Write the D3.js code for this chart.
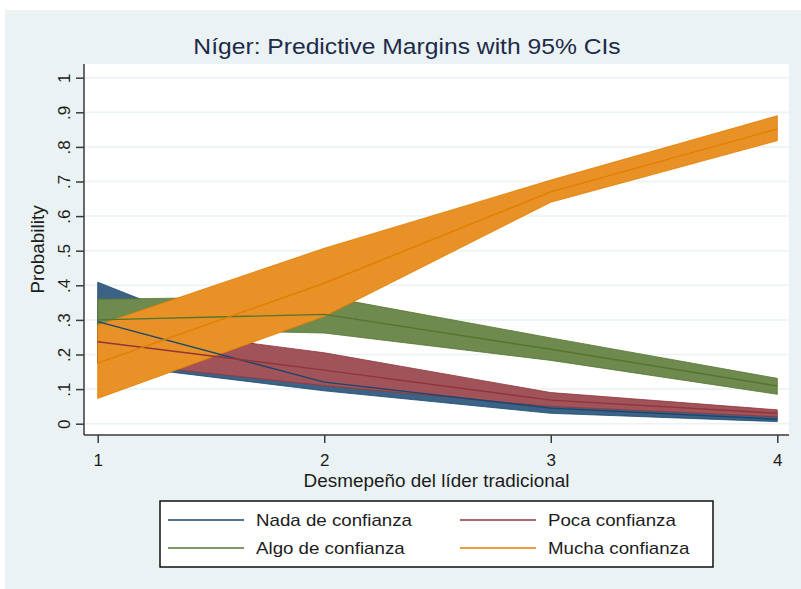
<!DOCTYPE html>
<html>
<head>
<meta charset="utf-8">
<script src="https://cdn.jsdelivr.net/npm/d3@7"></script>
<style>
  body { margin: 0; background: #fff; }
  text { font-family: "Liberation Sans", Arial, sans-serif; }
</style>
</head>
<body>
<div id="chart"></div>
<script>
var W = 801, H = 589;

// data
var levels = [1, 2, 3, 4];
var yTicks = [0, .1, .2, .3, .4, .5, .6, .7, .8, .9, 1];

var nadaFit = [0.295, 0.12, 0.045, 0.013];
var nadaLo  = [0.175, 0.095, 0.03, 0.006];
var nadaHi  = [0.409, 0.15, 0.06, 0.021];

var pocaFit = [0.237, 0.155, 0.068, 0.03];
var pocaLo  = [0.18, 0.11, 0.05, 0.02];
var pocaHi  = [0.29, 0.205, 0.09, 0.04];

var algoFit = [0.30, 0.316, 0.215, 0.109];
var algoLo  = [0.277, 0.262, 0.183, 0.085];
var algoHi  = [0.36, 0.368, 0.248, 0.131];

var muchaFit = [0.175, 0.406, 0.67, 0.852];
var muchaLo  = [0.073, 0.31, 0.64, 0.818];
var muchaHi  = [0.285, 0.507, 0.704, 0.89];

var names = ["Nada de confianza", "Poca confianza", "Algo de confianza", "Mucha confianza"];
var lineColors = ["#1a476f", "#90353b", "#55752f", "#e37e00"];
var fillColors = ["#3c6385", "#a05358", "#6e8a4e", "#e79126"];

var series = [
  {fit: nadaFit, lo: nadaLo, hi: nadaHi},
  {fit: pocaFit, lo: pocaLo, hi: pocaHi},
  {fit: algoFit, lo: algoLo, hi: algoHi},
  {fit: muchaFit, lo: muchaLo, hi: muchaHi}
];

var plot = {left: 84, right: 789, top: 64, bottom: 435};

var svg = d3.select("#chart").append("svg")
    .attr("width", W)
    .attr("height", H);

// stretch text a bit wider, the stata export is wider than arial
function stretch(sel, k) {
  sel.each(function() {
    var w = this.getComputedTextLength();
    d3.select(this).attr("textLength", w * k).attr("lengthAdjust", "spacingAndGlyphs");
  });
}

svg.append("rect")
   .attr("x", 5).attr("y", 10)
   .attr("width", W - 5).attr("height", H - 10)
   .attr("fill", "#eaf2f3");

svg.append("rect")
   .attr("x", plot.left).attr("y", plot.top)
   .attr("width", plot.right - plot.left)
   .attr("height", plot.bottom - plot.top)
   .attr("fill", "#fff");

var x = d3.scaleLinear().domain([1, 4]).range([97.7, 777.3]);
var y = d3.scaleLinear().domain([0, 1]).range([423.7, 77.7]);

// gridlines
svg.append("g")
   .selectAll("line")
   .data(yTicks)
   .enter().append("line")
   .attr("x1", plot.left + 1).attr("x2", plot.right)
   .attr("y1", function(d) { return y(d); })
   .attr("y2", function(d) { return y(d); })
   .attr("stroke", "#eaf2f3")
   .attr("stroke-width", 1.5);

var area = d3.area()
    .x(function(d) { return x(d.x); })
    .y0(function(d) { return y(d.lo); })
    .y1(function(d) { return y(d.hi); });

var line = d3.line()
    .x(function(d) { return x(d.x); })
    .y(function(d) { return y(d.v); });

var bands = svg.append("g");
series.forEach(function(s, i) {
  var pts = levels.map(function(l, j) { return {x: l, lo: s.lo[j], hi: s.hi[j]}; });
  bands.append("path")
       .datum(pts)
       .attr("d", area)
       .attr("fill", fillColors[i])
       .attr("stroke", lineColors[i])
       .attr("stroke-width", 0.8);
});

var lines = svg.append("g");
series.forEach(function(s, i) {
  var pts = levels.map(function(l, j) { return {x: l, v: s.fit[j]}; });
  lines.append("path")
       .datum(pts)
       .attr("d", line)
       .attr("fill", "none")
       .attr("stroke", lineColors[i])
       .attr("stroke-width", 1.4);
});

// axes
var axisColor = "#3a3a3a";
svg.append("line")
   .attr("x1", plot.left).attr("x2", plot.left)
   .attr("y1", plot.top).attr("y2", plot.bottom)
   .attr("stroke", axisColor).attr("stroke-width", 1.5);
svg.append("line")
   .attr("x1", plot.left).attr("x2", plot.right)
   .attr("y1", plot.bottom).attr("y2", plot.bottom)
   .attr("stroke", axisColor).attr("stroke-width", 1.5);

var yAxis = svg.append("g")
   .attr("transform", "translate(" + plot.left + ",0)")
   .call(d3.axisLeft(y)
      .tickValues(yTicks)
      .tickSize(8)
      .tickSizeOuter(0)
      .tickFormat(function(d) {
        if (d === 0) return "0";
        if (d === 1) return "1";
        return d3.format(".1f")(d).replace("0.", ".");
      }));
yAxis.select(".domain").remove();
yAxis.selectAll("line").attr("stroke", axisColor).attr("stroke-width", 1.5);
yAxis.selectAll("text")
   .attr("transform", "rotate(-90)")
   .attr("x", 0)
   .attr("y", -14)
   .attr("dy", 0)
   .attr("text-anchor", "middle")
   .attr("font-size", 17)
   .attr("fill", "#1c1c1c")
   .attr("font-family", "Liberation Sans, Arial, sans-serif");

var xAxis = svg.append("g")
   .attr("transform", "translate(0," + plot.bottom + ")")
   .call(d3.axisBottom(x)
      .tickValues(levels)
      .tickSize(8)
      .tickSizeOuter(0)
      .tickFormat(d3.format("d")));
xAxis.select(".domain").remove();
xAxis.selectAll("line").attr("stroke", axisColor).attr("stroke-width", 1.5);
xAxis.selectAll("text")
   .attr("y", 31)
   .attr("dy", 0)
   .attr("font-size", 17)
   .attr("fill", "#1c1c1c")
   .attr("font-family", "Liberation Sans, Arial, sans-serif");

// titles
var title = svg.append("text")
   .attr("x", 407).attr("y", 54)
   .attr("text-anchor", "middle")
   .attr("font-size", 22)
   .attr("fill", "#1e2a4a")
   .text("Níger: Predictive Margins with 95% CIs");
stretch(title, 1.12);

var xTitle = svg.append("text")
   .attr("x", (plot.left + plot.right) / 2).attr("y", 487)
   .attr("text-anchor", "middle")
   .attr("font-size", 17.5)
   .attr("fill", "#1c1c1c")
   .text("Desmepeño del líder tradicional");
stretch(xTitle, 1.08);

var yTitle = svg.append("text")
   .attr("transform", "translate(44," + (plot.top + plot.bottom) / 2 + ") rotate(-90)")
   .attr("text-anchor", "middle")
   .attr("font-size", 17.5)
   .attr("fill", "#1c1c1c")
   .text("Probability");
stretch(yTitle, 1.08);

// legend
var legend = svg.append("g").attr("id", "legend");
legend.append("rect")
   .attr("x", 160).attr("y", 501)
   .attr("width", 553).attr("height", 66)
   .attr("fill", "#fff")
   .attr("stroke", "#111")
   .attr("stroke-width", 1.5);

var cols = [168, 460], rows = [520, 548];
names.forEach(function(n, i) {
  var cx = cols[i % 2], cy = rows[Math.floor(i / 2)];
  legend.append("line")
     .attr("x1", cx).attr("x2", cx + 76)
     .attr("y1", cy).attr("y2", cy)
     .attr("stroke", lineColors[i])
     .attr("stroke-width", 1.4);
  var t = legend.append("text")
     .attr("x", cx + 88).attr("y", cy + 6)
     .attr("font-size", 17)
     .attr("fill", "#1c1c1c")
     .text(n);
  stretch(t, 1.1);
});
</script>
</body>
</html>
